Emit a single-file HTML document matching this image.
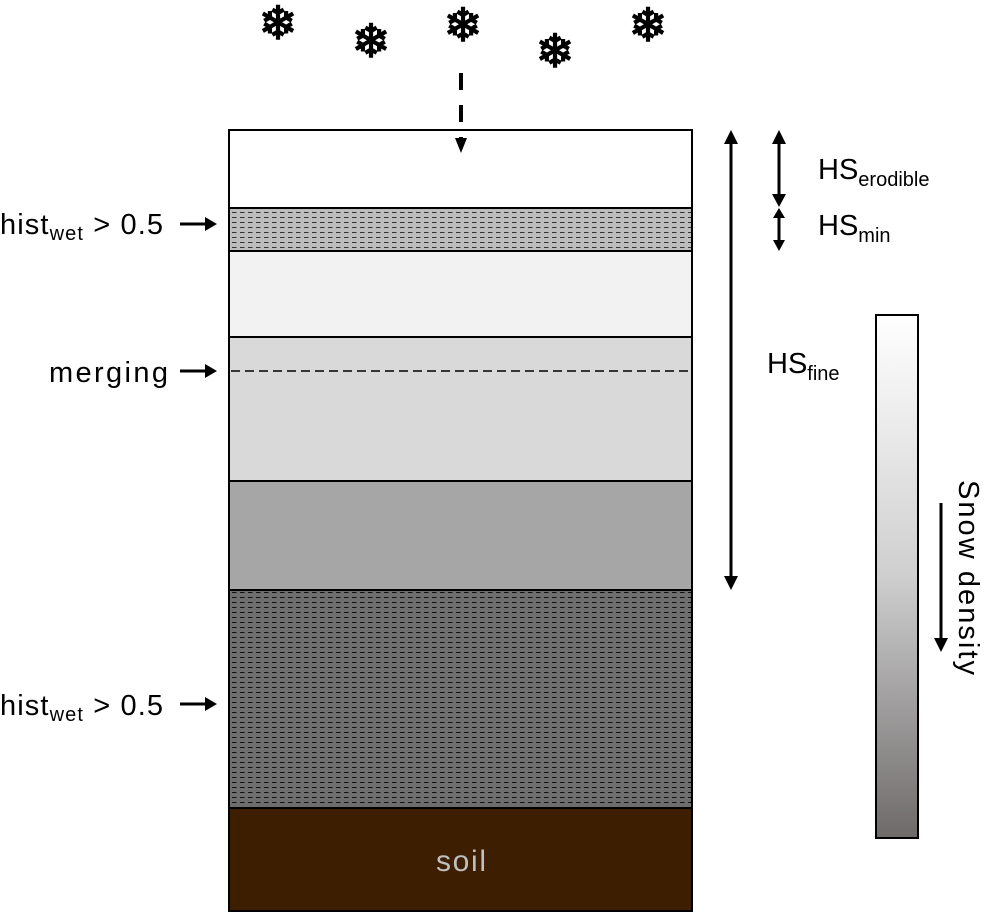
<!DOCTYPE html>
<html><head><meta charset="utf-8"><style>
body{margin:0;background:#fff;font-family:"Liberation Sans","DejaVu Sans",sans-serif}
</style></head><body>
<svg width="985" height="912" xmlns="http://www.w3.org/2000/svg" font-family="Liberation Sans, DejaVu Sans, sans-serif">
<defs>
<pattern id="d1" width="8" height="5" patternUnits="userSpaceOnUse"><rect width="8" height="5" fill="#bdbdbd"/><line x1="0" y1="2.5" x2="4.5" y2="2.5" stroke="#333" stroke-width="1"/></pattern>
<pattern id="d2" width="8" height="5" patternUnits="userSpaceOnUse"><rect width="8" height="5" fill="#6e6e6e"/><line x1="0" y1="2.5" x2="4.5" y2="2.5" stroke="#111" stroke-width="1"/></pattern>
<linearGradient id="g" x1="0" y1="0" x2="0" y2="1"><stop offset="0" stop-color="#fff"/><stop offset="0.5" stop-color="#cfcfcf"/><stop offset="1" stop-color="#6e6a6a"/></linearGradient>
</defs>
<g font-size="46" text-anchor="middle" fill="#000" stroke="#000" stroke-width="1.5">
<text x="278" y="39">❄</text><text x="371" y="57">❄</text><text x="463" y="41">❄</text><text x="555" y="67">❄</text><text x="648" y="41">❄</text>
</g>
<rect x="229" y="130" width="463" height="78" fill="#fff"/>
<rect x="229" y="208" width="463" height="43" fill="url(#d1)"/>
<rect x="229" y="251" width="463" height="86" fill="#f2f2f2"/>
<rect x="229" y="337" width="463" height="144" fill="#d9d9d9"/>
<rect x="229" y="481" width="463" height="109" fill="#a6a6a6"/>
<rect x="229" y="590" width="463" height="218" fill="url(#d2)"/>
<rect x="229" y="808" width="463" height="103" fill="#3d1e00"/>
<g stroke="#000" stroke-width="2">
<line x1="229" y1="208" x2="692" y2="208"/><line x1="229" y1="251" x2="692" y2="251"/><line x1="229" y1="337" x2="692" y2="337"/><line x1="229" y1="481" x2="692" y2="481"/><line x1="229" y1="590" x2="692" y2="590"/><line x1="229" y1="808" x2="692" y2="808"/>
<rect x="229" y="130" width="463" height="781" fill="none"/>
</g>
<line x1="231" y1="371" x2="690" y2="371" stroke="#000" stroke-width="1.5" stroke-dasharray="9,5"/>
<line x1="461" y1="73" x2="461" y2="140" stroke="#000" stroke-width="4" stroke-dasharray="17,15"/>
<path d="M455,138 L467,138 L461,153z" fill="#000"/>
<text x="436" y="871" font-size="30" fill="#bfbfbf" textLength="50">soil</text>
<g stroke="#000" stroke-width="3">
<line x1="180" y1="224" x2="208" y2="224"/><line x1="180" y1="371" x2="208" y2="371"/><line x1="180" y1="704" x2="208" y2="704"/>
</g>
<g fill="#000"><path d="M205,217 L217,224 L205,231z"/><path d="M205,364 L217,371 L205,378z"/><path d="M205,697 L217,704 L205,711z"/></g>
<g font-size="29" fill="#000">
<text x="0" y="234" textLength="163" lengthAdjust="spacing">hist<tspan font-size="20" dy="6">wet</tspan><tspan dy="-6"> &gt; 0.5</tspan></text>
<text x="49" y="382" textLength="119">merging</text>
<text x="0" y="715" textLength="163" lengthAdjust="spacing">hist<tspan font-size="20" dy="6">wet</tspan><tspan dy="-6"> &gt; 0.5</tspan></text>
<text x="818" y="179">HS<tspan font-size="20" dy="7">erodible</tspan></text>
<text x="818" y="235">HS<tspan font-size="20" dy="7">min</tspan></text>
<text x="767" y="373">HS<tspan font-size="20" dy="7">fine</tspan></text>
</g>
<g stroke="#000" stroke-width="3">
<line x1="731" y1="142" x2="731" y2="578"/><line x1="779" y1="142" x2="779" y2="196"/><line x1="779" y1="214" x2="779" y2="240"/>
<line x1="941" y1="503" x2="941" y2="640"/>
</g>
<g fill="#000">
<path d="M724,144 L731,130 L738,144z"/><path d="M724,576 L731,590 L738,576z"/>
<path d="M772,144 L779,130 L786,144z"/><path d="M772,194 L779,207 L786,194z"/>
<path d="M773,218 L779,208 L785,218z"/><path d="M773,240 L779,251 L785,240z"/>
<path d="M934,638 L941,652 L948,638z"/>
</g>
<rect x="876" y="315" width="42" height="523" fill="url(#g)" stroke="#000" stroke-width="2"/>
<text transform="translate(959,480) rotate(90)" font-size="29" fill="#000" textLength="195">Snow density</text>
</svg>
</body></html>
